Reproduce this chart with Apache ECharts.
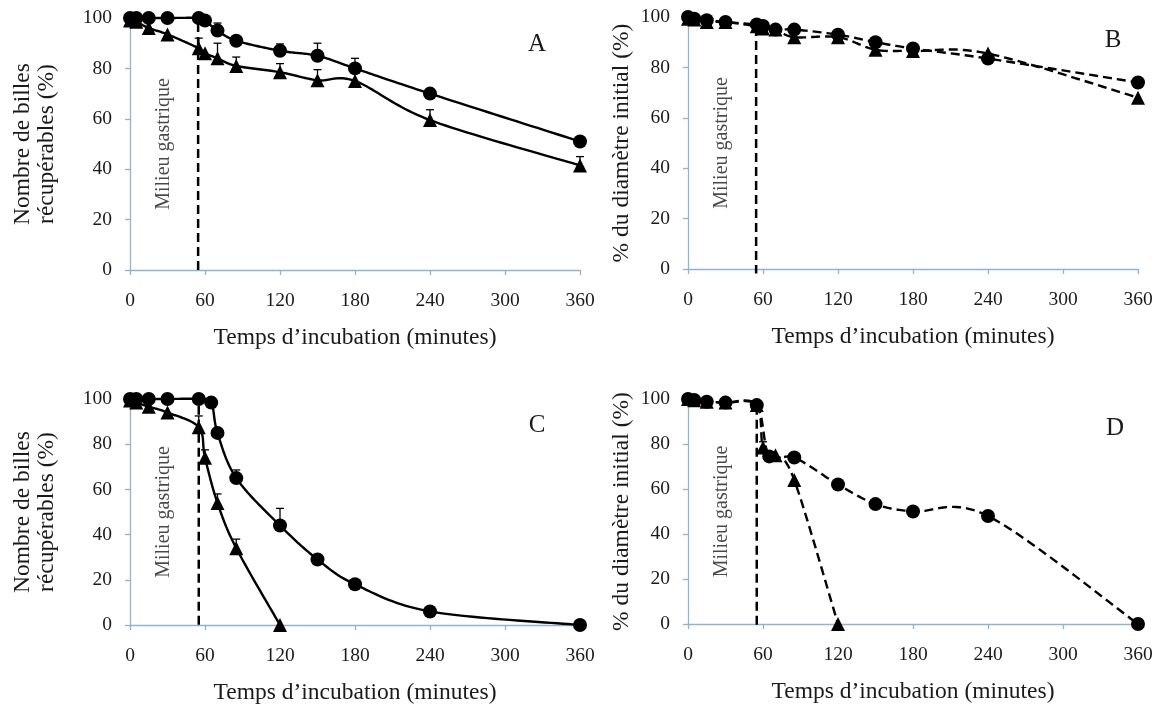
<!DOCTYPE html>
<html><head><meta charset="utf-8">
<script src="https://cdn.jsdelivr.net/npm/echarts@6/dist/echarts.min.js"></script>
<style>html,body{margin:0;padding:0;background:#fff}#c{width:1162px;height:713px}</style>
</head><body><div id="c"></div><script>
// ---- Data (minutes, %) ----
const xTicks = [0, 60, 120, 180, 240, 300, 360];
const yTicks = [0, 20, 40, 60, 80, 100];

// Panel A : number of recoverable beads
const timeA        = [0, 5, 15, 30, 55, 60, 70, 85, 120, 150, 180, 240, 360];
const circleA      = [100, 100, 100, 100, 100, 99, 95, 91, 87, 85, 80, 70, 51];
const circleA_top  = [null, null, null, null, null, null, 98, null, 89.7, 90, 84, null, null];
const triangleA    = [99, 98.5, 96, 93.5, 88, 86, 84, 81, 78.5, 75.3, 75, 59.5, 41.5];
const triangleA_top= [null, null, null, null, 92, null, 90, 84.5, 81.9, 79.5, null, 63.6, 45];

// Panel B : % of initial diameter
const timeB        = [0, 5, 15, 30, 55, 60, 70, 85, 120, 150, 180, 240, 360];
const circleB      = [100, 99.3, 98.7, 98, 97, 96.4, 95, 95, 93, 90, 87.5, 83.5, 74];
const triangleB    = [99.3, 99, 98, 98, 96.3, 95.4, 95, 92, 92, 87, 86.5, 85.5, 68];

// Panel C : number of recoverable beads
const timeC_circ   = [0, 5, 15, 30, 55, 65, 70, 85, 120, 150, 180, 240, 360];
const circleC      = [100, 100, 100, 100, 100, 98.4, 85, 65, 44, 29, 18, 6, 0];
const circleC_top  = [null, null, null, null, null, null, null, 68.6, 51.6, null, null, null, null];
const timeC_tri    = [0, 5, 15, 30, 55, 60, 70, 85, 120];
const triangleC    = [99.3, 98.4, 96.6, 94, 87.5, 74, 54, 34, 0];
const triangleC_top= [null, null, null, null, 92.5, 77.5, 58, 38, null];

// Panel D : % of initial diameter
const timeD_circ   = [0, 5, 15, 30, 55, 65, 85, 120, 150, 180, 240, 360];
const circleD      = [100, 99.6, 98.8, 98.4, 97.3, 74.5, 74, 62, 53.3, 50, 48, 0];
const timeD_tri    = [0, 5, 15, 30, 55, 60, 70, 85, 120];
const triangleD    = [100, 99.5, 98.8, 98.4, 97.3, 78.5, 75, 64, 0];
const triangleD_top= [null, null, null, null, null, 81, null, null, null];

// gastric phase end marker
const gastricX = [54.5, 54.5, 55, 55];
const gastricTop = [98, 96, 97, 97];
const gastricLabel = 'Milieu gastrique';
const panelLetters = ['A', 'B', 'C', 'D'];
const yNames = ['Nombre de billes\nrécupérables (%)', '% du diamètre initial (%)',
                'Nombre de billes\nrécupérables (%)', '% du diamètre initial (%)'];
const xName = 'Temps d\u2019incubation (minutes)';

// ---- Layout ----
const FONT = '"Liberation Serif", "DejaVu Serif", serif';
const AX = '#8fb4cb';
const TXT = '#1a1a1a';
const grids = [
  {left: 130, top: 18, width: 450, height: 252},
  {left: 688, top: 17, width: 450, height: 252},
  {left: 130, top: 399, width: 450, height: 226},
  {left: 688, top: 399, width: 450, height: 225}
];
const yGaps = [71, 54, 71, 54];

const xAxes = grids.map((g, i) => ({
  type: 'value', gridIndex: i, min: 0, max: 360, interval: 60,
  name: xName, nameLocation: 'middle', nameGap: 56,
  nameTextStyle: {fontFamily: FONT, fontSize: 23.5, color: TXT},
  axisLine: {show: true, lineStyle: {color: AX, width: 1.3}},
  axisTick: {show: true, length: 5, lineStyle: {color: AX, width: 1.3}},
  axisLabel: {fontFamily: FONT, fontSize: 19.5, color: TXT, margin: 21,
              formatter: v => xTicks.includes(v) ? String(v) : ''},
  splitLine: {show: false}
}));
const yAxes = grids.map((g, i) => ({
  type: 'value', gridIndex: i, min: 0, max: 100, interval: 20,
  name: yNames[i], nameLocation: 'middle', nameGap: yGaps[i],
  nameTextStyle: {fontFamily: FONT, fontSize: 23.5, color: TXT, lineHeight: 24},
  axisLine: {show: true, lineStyle: {color: AX, width: 1.3}},
  axisTick: {show: true, length: 5, lineStyle: {color: AX, width: 1.3}},
  axisLabel: {fontFamily: FONT, fontSize: 19.5, color: TXT, margin: 18,
              formatter: v => yTicks.includes(v) ? String(v) : ''},
  splitLine: {show: false}
}));

function pairs(t, v) { return t.map((x, k) => [x, v[k]]); }

// Excel-style smoothed curve (Catmull-Rom / Bezier in pixel space via the axes)
function curveSeries(i, t, v, dashed) {
  return {
    type: 'custom', xAxisIndex: i, yAxisIndex: i, data: [[t[0], v[0]]], z: 2, silent: true,
    renderItem: (params, api) => {
      const P = t.map((x, k) => api.coord([x, v[k]]));
      const pts = [P[0]];
      for (let k = 0; k < P.length - 1; k++) {
        const p0 = P[k - 1] || P[k], p1 = P[k], p2 = P[k + 1], p3 = P[k + 2] || P[k + 1];
        const c1 = [p1[0] + (p2[0] - p0[0]) / 6, p1[1] + (p2[1] - p0[1]) / 6];
        const c2 = [p2[0] - (p3[0] - p1[0]) / 6, p2[1] - (p3[1] - p1[1]) / 6];
        const N = 24;
        for (let s = 1; s <= N; s++) {
          const u = s / N, a = (1 - u) * (1 - u) * (1 - u), b = 3 * u * (1 - u) * (1 - u),
                c = 3 * u * u * (1 - u), d = u * u * u;
          pts.push([a * p1[0] + b * c1[0] + c * c2[0] + d * p2[0],
                    a * p1[1] + b * c1[1] + c * c2[1] + d * p2[1]]);
        }
      }
      return {type: 'polyline', shape: {points: pts},
              style: {stroke: '#000', fill: null, lineWidth: 2.4, lineDash: dashed ? [9, 5] : null}};
    },
    animation: false
  };
}
function markerSeries(i, t, v, sym) {
  return {
    type: 'scatter', xAxisIndex: i, yAxisIndex: i, data: pairs(t, v),
    symbol: sym, symbolSize: 14, z: 4, itemStyle: {color: '#000', opacity: 1},
    animation: false, silent: true
  };
}
function errSeries(i, t, v, top) {
  const d = [];
  t.forEach((x, k) => { if (top[k] != null) d.push([x, v[k], top[k]]); });
  return {
    type: 'custom', xAxisIndex: i, yAxisIndex: i, data: d, z: 3, silent: true,
    renderItem: (params, api) => {
      const p0 = api.coord([api.value(0), api.value(1)]);
      const p1 = api.coord([api.value(0), api.value(2)]);
      const st = {stroke: '#000', lineWidth: 1.3};
      return {type: 'group', children: [
        {type: 'line', shape: {x1: p0[0], y1: p0[1], x2: p1[0], y2: p1[1]}, style: st},
        {type: 'line', shape: {x1: p1[0] - 4, y1: p1[1], x2: p1[0] + 4, y2: p1[1]}, style: st}
      ]};
    },
    animation: false
  };
}
function set(i, t, v, sym, dashed, top) {
  series.push(curveSeries(i, t, v, dashed));
  series.push(markerSeries(i, t, v, sym));
  if (top) series.push(errSeries(i, t, v, top));
}

const series = [];
set(0, timeA, circleA, 'circle', false, circleA_top);
set(0, timeA, triangleA, 'triangle', false, triangleA_top);
set(1, timeB, circleB, 'circle', true, null);
set(1, timeB, triangleB, 'triangle', true, null);
set(2, timeC_circ, circleC, 'circle', false, circleC_top);
set(2, timeC_tri, triangleC, 'triangle', false, triangleC_top);
set(3, timeD_circ, circleD, 'circle', true, null);
set(3, timeD_tri, triangleD, 'triangle', true, triangleD_top);

// gastric markers + labels
for (let i = 0; i < 4; i++) {
  series.push({
    type: 'line', xAxisIndex: i, yAxisIndex: i, clip: false, symbol: 'none', z: 1,
    data: [[gastricX[i], gastricTop[i]], [gastricX[i], -1.8]],
    lineStyle: {color: '#000', width: 2.5, type: [9, 5]}, animation: false, silent: true
  });
  series.push({
    type: 'scatter', xAxisIndex: i, yAxisIndex: i, symbolSize: 0, silent: true,
    data: [[27, 50]],
    label: {show: true, position: 'inside', rotate: 90, formatter: gastricLabel,
            fontFamily: FONT, fontSize: 20, color: TXT},
    animation: false
  });
}

const letterPos = [[537, 44], [1113, 40], [537, 425], [1115, 428]];
const graphic = panelLetters.map((L, i) => ({
  type: 'text', x: letterPos[i][0], y: letterPos[i][1],
  style: {text: L, font: '25px ' + FONT, fill: TXT, textAlign: 'center', textVerticalAlign: 'middle'}
}));

const chart = echarts.init(document.getElementById('c'), null, {renderer: 'canvas'});
chart.setOption({
  backgroundColor: '#fff', animation: false,
  grid: grids, xAxis: xAxes, yAxis: yAxes, series, graphic
});
</script></body></html>
